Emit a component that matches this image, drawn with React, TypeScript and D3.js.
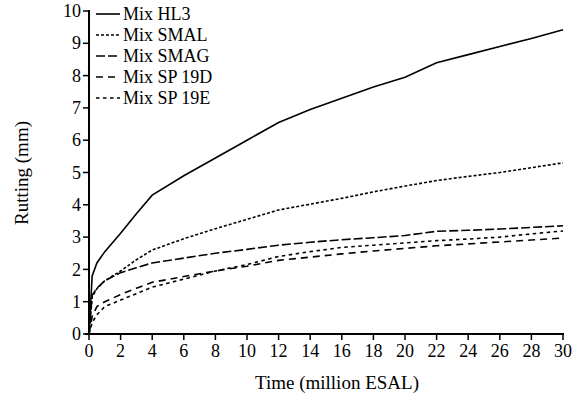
import React from "react";
import * as d3 from "d3";

// Cumulative traffic (million ESAL) at which rutting was computed
const time = [0, 0.2, 0.5, 1, 2, 3, 4, 6, 8, 10, 12, 14, 16, 18, 20, 22, 24, 26, 28, 30];

// Rutting depth (mm) for each mix
const hl3 = [0, 1.8, 2.2, 2.55, 3.12, 3.72, 4.3, 4.9, 5.45, 6.0, 6.55, 6.95, 7.3, 7.65, 7.95, 8.4, 8.65, 8.9, 9.15, 9.42];
const smal = [0, 1.15, 1.4, 1.65, 1.95, 2.3, 2.6, 2.95, 3.26, 3.55, 3.84, 4.02, 4.2, 4.4, 4.58, 4.75, 4.88, 5.0, 5.15, 5.3];
const smag = [0, 1.2, 1.42, 1.65, 1.9, 2.05, 2.2, 2.35, 2.5, 2.62, 2.75, 2.84, 2.92, 2.98, 3.05, 3.18, 3.21, 3.25, 3.3, 3.35];
const sp19d = [0, 0.55, 0.85, 1.0, 1.22, 1.42, 1.6, 1.78, 1.95, 2.1, 2.28, 2.38, 2.48, 2.57, 2.65, 2.73, 2.79, 2.85, 2.91, 2.97];
const sp19e = [0, 0.35, 0.6, 0.85, 1.05, 1.25, 1.45, 1.7, 1.95, 2.15, 2.4, 2.55, 2.68, 2.75, 2.82, 2.89, 2.94, 3.0, 3.1, 3.19];

const seriesNames = ["Mix HL3", "Mix SMAL", "Mix SMAG", "Mix SP 19D", "Mix SP 19E"];
const seriesValues = [hl3, smal, smag, sp19d, sp19e];
const dashes = ["none", "3,2", "9,3", "7,5", "3.5,3.5"];

const xTicks = [0, 2, 4, 6, 8, 10, 12, 14, 16, 18, 20, 22, 24, 26, 28, 30];
const yTicks = [0, 1, 2, 3, 4, 5, 6, 7, 8, 9, 10];

const W = 578;
const H = 402;
const left = 89;
const right = 563;
const top = 11;
const bottom = 334;
const font = "'Liberation Serif', 'Times New Roman', serif";

export default function App() {
  const x = d3.scaleLinear().domain([0, 30]).range([left, right]);
  const y = d3.scaleLinear().domain([0, 10]).range([bottom, top]);
  const line = d3
    .line<[number, number]>()
    .x((d) => x(d[0]))
    .y((d) => y(d[1]));

  return (
    <div style={{ position: "absolute", left: 0, top: 0 }}>
      <svg width={W} height={H} style={{ display: "block", background: "#fff" }} fontFamily={font}>
        {/* data lines */}
        {seriesValues.map((vals, i) => (
          <path
            key={seriesNames[i]}
            d={line(time.map((t, j) => [t, vals[j]]) as [number, number][]) || ""}
            fill="none"
            stroke="#000"
            strokeWidth={1.6}
            strokeDasharray={dashes[i]}
          />
        ))}

        {/* y axis */}
        <line x1={left} x2={left} y1={bottom + 1} y2={top - 1} stroke="#000" strokeWidth={2} />
        {yTicks.map((t) => (
          <g key={"y" + t}>
            <line x1={left - 6} x2={left} y1={y(t)} y2={y(t)} stroke="#000" strokeWidth={1.5} />
            <text x={left - 8} y={y(t)} dy="0.34em" textAnchor="end" fontSize={18}>
              {t}
            </text>
          </g>
        ))}

        {/* x axis */}
        <line x1={left - 4} x2={right + 1} y1={bottom} y2={bottom} stroke="#000" strokeWidth={2} />
        {xTicks.map((t) => (
          <g key={"x" + t}>
            <line x1={x(t)} x2={x(t)} y1={bottom} y2={bottom + 6} stroke="#000" strokeWidth={1.5} />
            <text x={x(t)} y={bottom + 23} textAnchor="middle" fontSize={18}>
              {t}
            </text>
          </g>
        ))}

        {/* axis titles */}
        <text x={337} y={389} textAnchor="middle" fontSize={19}>
          Time (million ESAL)
        </text>
        <text
          transform={`translate(28, ${173}) rotate(-90)`}
          textAnchor="middle"
          fontSize={19}
        >
          Rutting (mm)
        </text>

        {/* legend */}
        {seriesNames.map((name, i) => {
          const ly = 14 + i * 21;
          return (
            <g key={"lg" + name}>
              <line
                x1={96}
                x2={120}
                y1={ly}
                y2={ly}
                stroke="#000"
                strokeWidth={1.6}
                strokeDasharray={dashes[i]}
              />
              <text x={123} y={ly} dy="0.34em" fontSize={18}>
                {name}
              </text>
            </g>
          );
        })}
      </svg>
    </div>
  );
}
